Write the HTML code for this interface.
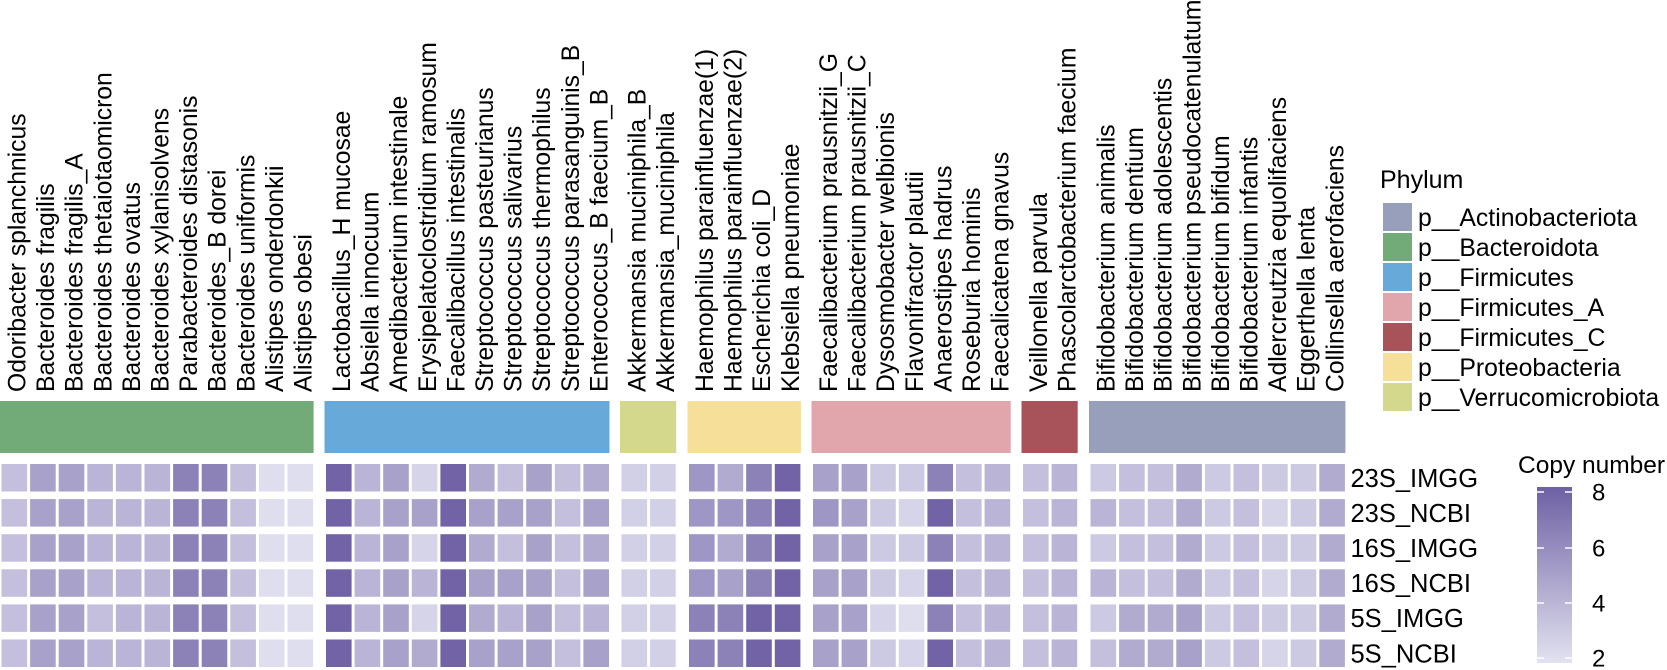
<!DOCTYPE html>
<html><head><meta charset="utf-8"><style>
html,body{margin:0;padding:0;background:#fff;}
svg{display:block;font-family:"Liberation Sans",Arial,sans-serif;}
</style></head><body>
<div id="c"></div>
<script>
const groups=[
 {start:0,color:"#72aa78",names:["Odoribacter splanchnicus","Bacteroides fragilis","Bacteroides fragilis_A","Bacteroides thetaiotaomicron","Bacteroides ovatus","Bacteroides xylanisolvens","Parabacteroides distasonis","Bacteroides_B dorei","Bacteroides uniformis","Alistipes onderdonkii","Alistipes obesi"],
  vals:[[3.5,5,5,4,4,4,6.5,6.5,3.5,2,2],[3.5,5,5,4,4,4,6.5,6.5,3.5,2,2],[3.5,5,5,4,4,4,6.5,6.5,3.5,2,2],[3.5,5,5,4,4,4,6.5,6.5,3.5,2,2],[3.5,5,5,3.5,4,4,6.5,6.5,3.5,2,2],[3.5,5,5,4,4,4,6.5,6.5,3.5,2,2]]},
 {start:324.5,color:"#67aad9",names:["Lactobacillus_H mucosae","Absiella innocuum","Amedibacterium intestinale","Erysipelatoclostridium ramosum","Faecalibacillus intestinalis","Streptococcus pasteurianus","Streptococcus salivarius","Streptococcus thermophilus","Streptococcus parasanguinis_B","Enterococcus_B faecium_B"],
  vals:[[8,4,5,2.5,8,4.5,3.5,5,3.5,4.5],[8,4,5,5,8,5,5,5,3.5,5],[8,4,5,2.5,8,4.5,3.5,5,3.5,4.5],[8,4,5,4,8,5,5,5,3.5,5],[8,4,5,2.5,8,4.5,4,5,3.5,4],[8,4,5,4.5,8,5,5,5,3.5,5]]},
 {start:620,color:"#d3d88d",names:["Akkermansia muciniphila_B","Akkermansia_muciniphila"],
  vals:[[2.7,2.7],[2.7,2.7],[2.7,2.7],[2.7,2.7],[2.7,2.7],[2.7,2.7]]},
 {start:687.5,color:"#f6df99",names:["Haemophilus parainfluenzae(1)","Haemophilus parainfluenzae(2)","Escherichia coli_D","Klebsiella pneumoniae"],
  vals:[[5.5,4.5,6.5,8],[5.5,5.5,6.5,8],[5.5,4.5,6.5,8],[5.5,5,6.5,8],[6.5,6.5,8,8],[6.5,6.5,8,8]]},
 {start:811.5,color:"#e1a6ac",names:["Faecalibacterium prausnitzii_G","Faecalibacterium prausnitzii_C","Dysosmobacter welbionis","Flavonifractor plautii","Anaerostipes hadrus","Roseburia hominis","Faecalicatena gnavus"],
  vals:[[5,5,3,3,6.5,3.5,4],[5.5,5,3,2.5,8,3.5,4],[5,5,3,3,6.5,3.5,4],[5,5,3,2.5,8,3.5,4],[5,5,2.5,2,6.5,3.5,4],[5,5,3,2.5,8,3.5,4]]},
 {start:1021.5,color:"#a8525a",names:["Veillonella parvula","Phascolarctobacterium faecium"],
  vals:[[3.5,4],[3.5,4],[3.5,4],[3.5,4],[3.5,4],[3.5,4]]},
 {start:1089,color:"#979fbb",names:["Bifidobacterium animalis","Bifidobacterium dentium","Bifidobacterium adolescentis","Bifidobacterium pseudocatenulatum","Bifidobacterium bifidum","Bifidobacterium infantis","Adlercreutzia equolifaciens","Eggerthella lenta","Collinsella aerofaciens"],
  vals:[[3,3.5,3.5,4.5,3,3.5,3,3,4.5],[4,3.5,3.5,4.5,3,3.5,2.5,3,4.5],[3,3.5,3.5,4.5,3,3.5,3,3,4.5],[4,3.5,3.5,4.5,3,3.5,2.5,3,4.5],[3,4.5,4.5,5,3,3.5,3,3,4.5],[3.5,4.5,4.5,5,3,3.5,2.5,3,4.5]]}
];
const P=28.6,CW=25.6,CH=27.5,R0=464,RP=35.1;
function col(v){const lo=[222,222,238],hi=[113,99,166];const t=Math.max(0,Math.min(1,(v-2)/6));
 return "rgb("+lo.map((l,i)=>Math.round(l+(hi[i]-l)*t)).join(",")+")";}
let s='<svg xmlns="http://www.w3.org/2000/svg" width="1667" height="670" viewBox="0 0 1667 670">';
s+='<rect width="1667" height="670" fill="#fff"/>';
groups.forEach(g=>{
 const n=g.names.length;
 s+=`<rect x="${g.start}" y="401" width="${n*P-1}" height="52" fill="${g.color}"/>`;
 g.names.forEach((nm,i)=>{
  const x=g.start+i*P+1.5;
  const bx=x+24;
  s+=`<text transform="translate(${bx},392) rotate(-90)" font-size="24.7" fill="#000">${nm}</text>`;
  for(let r=0;r<6;r++){
   s+=`<rect x="${x}" y="${R0+r*RP}" width="${CW}" height="${CH}" fill="${col(g.vals[r][i])}"/>`;
  }
 });
});
const rl=["23S_IMGG","23S_NCBI","16S_IMGG","16S_NCBI","5S_IMGG","5S_NCBI"];
rl.forEach((t,r)=>{s+=`<text x="1350.5" y="${R0+r*RP+CH/2+9}" font-size="25.5">${t}</text>`;});
s+='<text x="1380" y="188" font-size="25">Phylum</text>';
const leg=[["p__Actinobacteriota","#979fbb"],["p__Bacteroidota","#72aa78"],["p__Firmicutes","#67aad9"],["p__Firmicutes_A","#e1a6ac"],["p__Firmicutes_C","#a8525a"],["p__Proteobacteria","#f6df99"],["p__Verrucomicrobiota","#d3d88d"]];
leg.forEach((l,i)=>{const y=203+i*30;
 s+=`<rect x="1383" y="${y}" width="29" height="28" fill="${l[1]}"/>`;
 s+=`<text x="1418" y="${y+23}" font-size="24.8">${l[0]}</text>`;});
s+='<defs><linearGradient id="g" x1="0" y1="0" x2="0" y2="1"><stop offset="0" stop-color="rgb(110,96,164)"/><stop offset="1" stop-color="rgb(226,226,240)"/></linearGradient></defs>';
s+='<text x="1518" y="473" font-size="24.5">Copy number</text>';
s+='<rect x="1537" y="487" width="35" height="176" fill="url(#g)"/>';
[[8,492],[6,548],[4,603],[2,658]].forEach(t=>{
 s+=`<line x1="1537" x2="1544" y1="${t[1]}" y2="${t[1]}" stroke="#fff" stroke-width="1.5"/>`;
 s+=`<line x1="1565" x2="1572" y1="${t[1]}" y2="${t[1]}" stroke="#fff" stroke-width="1.5"/>`;
 s+=`<text x="1592" y="${t[1]+8.5}" font-size="24">${t[0]}</text>`;});
s+='</svg>';
document.getElementById('c').innerHTML=s;
</script>
</body></html>
